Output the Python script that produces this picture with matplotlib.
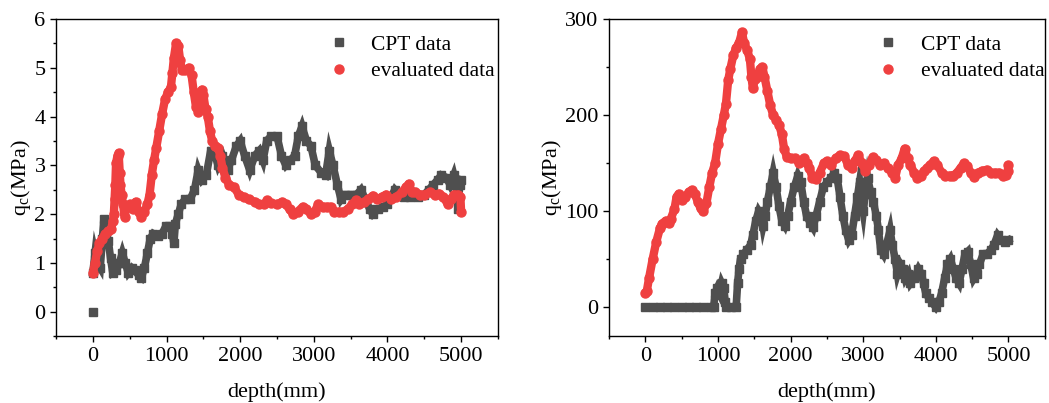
import matplotlib
matplotlib.use("Agg")
import matplotlib.pyplot as plt

plt.rcParams['font.family'] = ['Liberation Serif', 'DejaVu Serif']
plt.rcParams['mathtext.fontset'] = 'custom'
plt.rcParams['mathtext.rm'] = 'Liberation Serif'
plt.rcParams['mathtext.it'] = 'Liberation Serif:italic'
plt.rcParams['font.size'] = 16

# left panel: CPT data (depth mm, qc MPa)
cptL_depth = [0, 0, 30, 60, 100, 130, 150, 180, 210, 240, 270, 320, 360, 400, 440, 480, 530, 570, 620, 660,
              700, 740, 780, 820, 880, 940, 990, 1040, 1080, 1100, 1120, 1160, 1200, 1250, 1320, 1380, 1430,
              1480, 1540, 1600, 1640, 1700, 1760, 1830, 1880, 1950, 2000, 2060, 2130, 2200, 2260, 2310, 2360,
              2420, 2500, 2560, 2620, 2680, 2740, 2790, 2840, 2900, 2960, 3020, 3100, 3160, 3210, 3260, 3320,
              3370, 3420, 3500, 3580, 3640, 3700, 3760, 3800, 3870, 3940, 4000, 4050, 4100, 4160, 4220, 4300,
              4350, 4420, 4500, 4560, 4620, 4680, 4730, 4800, 4850, 4900, 4940, 4960, 4980, 5000]
cptL_qc = [0.0, 0.8, 1.2, 1.0, 0.9, 1.5, 1.9, 1.6, 1.45, 1.1, 0.8, 0.85, 1.0, 1.2, 1.0, 0.8, 0.9, 0.85, 0.75, 0.7,
           0.9, 1.2, 1.5, 1.6, 1.55, 1.6, 1.75, 1.75, 1.6, 1.4, 1.8, 2.0, 2.2, 2.3, 2.3, 2.5, 2.9,
           2.7, 2.8, 3.3, 3.3, 3.0, 3.2, 2.9, 3.1, 3.4, 3.5, 3.2, 2.9, 3.2, 3.3, 3.1, 3.5,
           3.6, 3.6, 3.2, 3.0, 3.1, 3.2, 3.6, 3.8, 3.5, 3.4, 3.0, 2.85, 2.8, 3.3, 3.0, 2.6,
           2.3, 2.4, 2.4, 2.4, 2.5, 2.3, 2.1, 2.0, 2.1, 2.15, 2.2, 2.35, 2.5, 2.4, 2.35, 2.35,
           2.45, 2.35, 2.4, 2.5, 2.6, 2.7, 2.8, 2.75, 2.6, 2.8, 2.55, 2.1, 2.6, 2.7]

# left panel: evaluated data
evalL_depth = [0, 30, 60, 90, 130, 170, 210, 250, 270, 285, 295, 305, 315, 335, 350, 365, 375, 390, 410, 430,
               460, 500, 540, 580, 620, 660, 700, 740, 770, 800, 830, 860, 900, 940, 980, 1020, 1060, 1080,
               1100, 1130, 1160, 1185, 1210, 1250, 1300, 1340, 1370, 1400, 1430, 1460, 1480, 1500, 1530, 1560,
               1590, 1620, 1660, 1700, 1730, 1760, 1800, 1850, 1920, 1980, 2050, 2120, 2200, 2260, 2320, 2370,
               2420, 2500, 2570, 2620, 2670, 2720, 2780, 2850, 2900, 2960, 3010, 3060, 3120, 3180, 3230, 3280,
               3340, 3400, 3460, 3520, 3570, 3620, 3680, 3740, 3800, 3860, 3920, 3980, 4050, 4120, 4200, 4250,
               4290, 4330, 4380, 4440, 4500, 4580, 4640, 4700, 4760, 4820, 4860, 4900, 4960, 4990, 5000]
evalL_qc = [0.8, 1.0, 1.25, 1.4, 1.5, 1.6, 1.65, 1.7, 1.85, 2.0, 2.3, 2.6, 3.05, 3.2, 3.25, 2.85, 2.6, 2.4, 2.2, 1.95,
            2.15, 2.2, 2.1, 2.25, 2.05, 1.95, 2.05, 2.2, 2.4, 2.8, 3.1, 3.35, 3.7, 4.05, 4.35, 4.5, 4.6, 4.9,
            5.2, 5.5, 5.45, 5.15, 4.95, 4.95, 5.0, 4.85, 4.5, 4.2, 4.1, 4.3, 4.55, 4.45, 4.15, 4.0,
            3.7, 3.5, 3.4, 3.35, 3.2, 2.95, 2.75, 2.6, 2.55, 2.4, 2.35, 2.3, 2.25, 2.2, 2.2, 2.28,
            2.22, 2.2, 2.25, 2.2, 2.1, 2.0, 2.05, 2.15, 2.1, 2.0, 2.05, 2.2, 2.15, 2.15, 2.15, 2.05,
            2.05, 2.05, 2.1, 2.2, 2.28, 2.2, 2.25, 2.3, 2.38, 2.3, 2.35, 2.4, 2.3, 2.35, 2.45, 2.55,
            2.62, 2.45, 2.45, 2.4, 2.4, 2.45, 2.4, 2.42, 2.35, 2.2, 2.3, 2.4, 2.4, 2.35, 2.05]

# right panel: CPT data
cptR_depth = [0, 100, 200, 300, 400, 500, 600, 700, 800, 900, 940, 960, 990, 1020, 1050, 1080, 1100, 1110, 1180, 1250,
              1270, 1290, 1310, 1350, 1400, 1450, 1480, 1520, 1560, 1600, 1620, 1650, 1680, 1720, 1760, 1800,
              1840, 1880, 1920, 1960, 2000, 2050, 2100, 2140, 2180, 2220, 2270, 2310, 2350, 2400, 2450, 2500,
              2560, 2600, 2640, 2680, 2720, 2760, 2800, 2840, 2880, 2920, 2950, 2980, 3000, 3030, 3060, 3100,
              3140, 3180, 3210, 3240, 3280, 3320, 3370, 3400, 3440, 3470, 3510, 3550, 3580, 3620, 3650, 3700,
              3760, 3800, 3830, 3860, 3900, 3950, 4000, 4040, 4080, 4120, 4160, 4200, 4240, 4280, 4320, 4360,
              4400, 4440, 4480, 4520, 4560, 4600, 4650, 4700, 4760, 4800, 4850, 4900, 4950, 5000]
cptR_qc = [0, 0, 0, 0, 0, 0, 0, 0, 0, 0, 0, 15, 20, 15, 25, 20, 5, 0, 0, 0,
           25, 40, 50, 55, 60, 65, 75, 90, 100, 95, 85, 95, 110, 125, 140, 125,
           105, 90, 85, 95, 110, 125, 137, 130, 110, 95, 88, 83, 95, 110, 125, 130,
           135, 140, 135, 115, 95, 80, 70, 75, 95, 115, 130, 110, 100, 120, 135, 120,
           110, 95, 80, 60, 55, 65, 80, 65, 50, 35, 45, 40, 30, 35, 25, 30,
           40, 35, 25, 15, 10, 5, 0, 5, 15, 30, 45, 50, 40, 30, 25, 40,
           55, 58, 45, 30, 35, 45, 55, 55, 60, 65, 75, 70, 68, 70]

# right panel: evaluated data
evalR_depth = [0, 20, 50, 100, 150, 200, 230, 280, 320, 350, 400, 430, 460, 500, 550, 600, 640, 680, 720, 760,
               800, 840, 880, 920, 960, 1000, 1040, 1080, 1110, 1140, 1170, 1210, 1250, 1290, 1330, 1360, 1400,
               1440, 1460, 1480, 1510, 1540, 1580, 1610, 1640, 1680, 1720, 1760, 1800, 1840, 1880, 1910, 1950,
               2000, 2060, 2120, 2180, 2220, 2260, 2300, 2350, 2400, 2460, 2500, 2560, 2620, 2680, 2740, 2790,
               2840, 2880, 2930, 2980, 3030, 3080, 3130, 3180, 3230, 3280, 3340, 3400, 3440, 3480, 3530, 3570,
               3610, 3650, 3700, 3740, 3790, 3840, 3880, 3920, 3970, 4020, 4080, 4130, 4190, 4240, 4290, 4340,
               4390, 4430, 4480, 4530, 4580, 4640, 4700, 4760, 4820, 4870, 4920, 4960, 4990, 5000]
evalR_qc = [15, 17, 30, 50, 68, 82, 87, 90, 88, 92, 102, 115, 118, 112, 115, 120, 122, 118, 110, 103,
            100, 108, 125, 140, 150, 170, 185, 200, 212, 236, 248, 262, 270, 275, 286, 275, 268,
            258, 240, 228, 238, 240, 248, 250, 240, 225, 210, 200, 195, 190, 180, 165, 156,
            155, 155, 150, 155, 150, 145, 135, 133, 140, 150, 152, 148, 155, 158, 157, 148,
            145, 152, 158, 150, 142, 148, 156, 153, 148, 150, 145, 140, 135, 148, 155, 165,
            155, 148, 140, 135, 137, 142, 145, 148, 152, 148, 140, 137, 137, 137, 140, 145,
            150, 147, 140, 136, 140, 142, 143, 140, 140, 140, 137, 138, 142, 148]

gray = '#4f4f4f'
red = '#ef4040'

fig = plt.figure(figsize=(10.49, 4.03), dpi=100)
axL = fig.add_axes([0.0534, 0.166, 0.4213, 0.787])
axR = fig.add_axes([0.5806, 0.166, 0.4154, 0.787])


def draw(ax, cd, cq, ed, eq):
    # thick line under the markers so the dense point trail stays continuous
    ax.plot(cd[1:], cq[1:], '-', color=gray, lw=5.5, solid_joinstyle='miter')
    ax.plot(cd, cq, 's', color=gray, ms=5.5, label='CPT data')
    ax.plot(ed, eq, '-', color=red, lw=6, solid_capstyle='round')
    ax.plot(ed, eq, 'o', color=red, ms=6.5, label='evaluated data')
    ax.set_xlim(-500, 5500)
    ax.set_xticks([0, 1000, 2000, 3000, 4000, 5000])
    ax.set_xticks(range(-500, 5501, 1000), minor=True)
    ax.set_xlabel('depth(mm)', labelpad=12)
    ax.set_ylabel(r'q$_\mathrm{c}$(MPa)', labelpad=1)
    ax.tick_params(direction='out', length=4, width=1, top=False, right=False, labelsize=16)
    ax.tick_params(which='minor', direction='out', length=2.5, width=1)
    for s in ax.spines.values():
        s.set_linewidth(1)
    ax.legend(frameon=False, loc='upper left', bbox_to_anchor=(0.616, 0.95), borderpad=0,
              borderaxespad=0, handlelength=1, handletextpad=1.0, labelspacing=0.3, fontsize=15.5)


draw(axL, cptL_depth, cptL_qc, evalL_depth, evalL_qc)
axL.set_ylim(-0.5, 6)
axL.set_yticks([0, 1, 2, 3, 4, 5, 6])
axL.set_yticks([-0.5, 0.5, 1.5, 2.5, 3.5, 4.5, 5.5], minor=True)

draw(axR, cptR_depth, cptR_qc, evalR_depth, evalR_qc)
axR.set_ylim(-30, 300)
axR.set_yticks([0, 100, 200, 300])
axR.set_yticks([50, 150, 250], minor=True)

fig.savefig('out.png', dpi=100)
